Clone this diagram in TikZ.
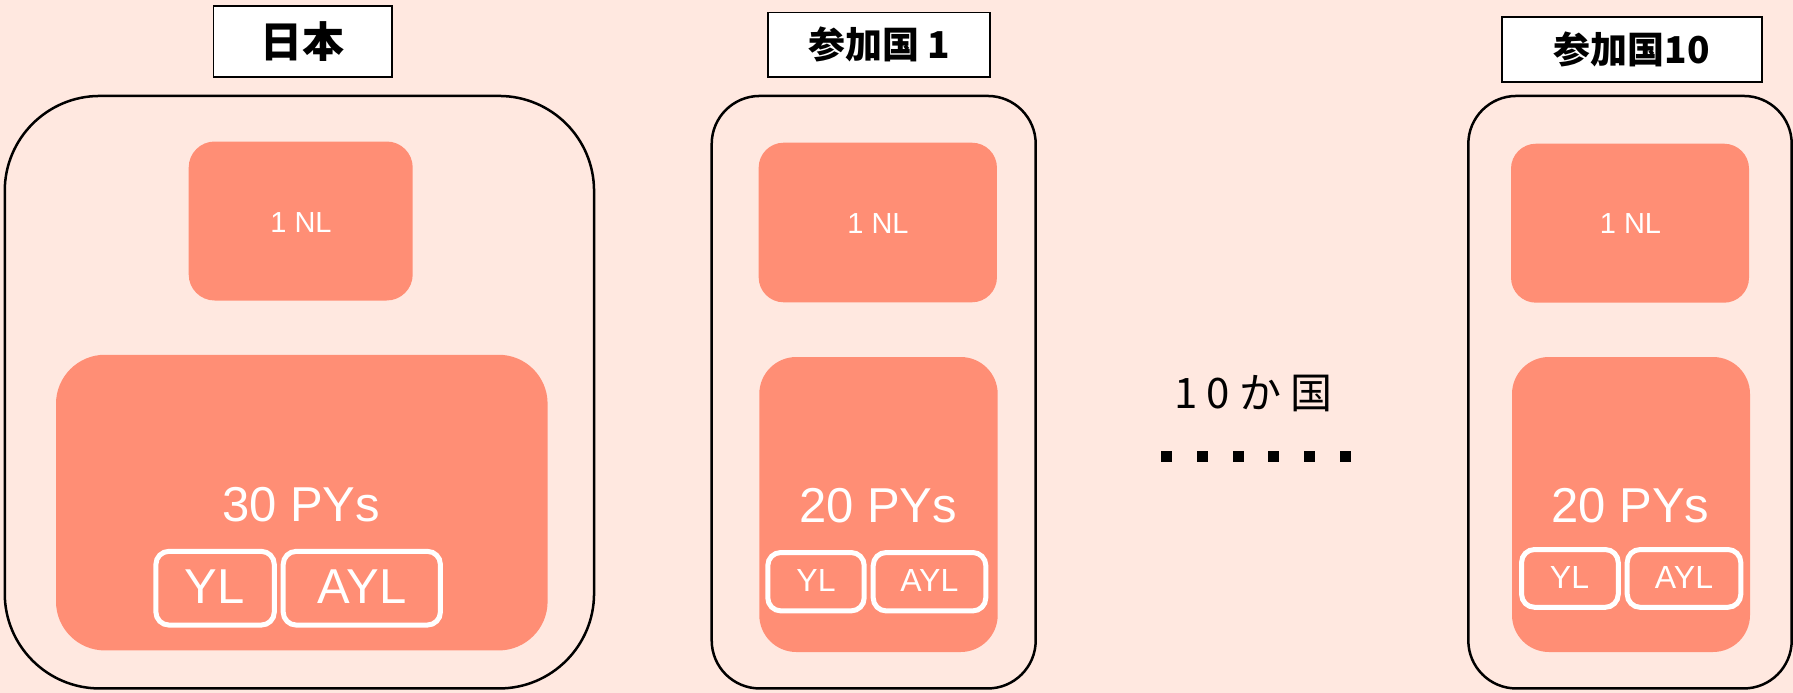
\documentclass[tikz,border=0pt]{standalone}
\usepackage{fontspec}
\setmainfont{Liberation Sans}
\newfontfamily\jp{Noto Sans CJK JP}
\definecolor{bgpink}{RGB}{255,232,224}
\definecolor{salmon}{RGB}{255,142,117}
\tikzset{
  outerbox/.style={draw=black,line width=2.5pt,inner sep=0pt},
  labelbox/.style={draw=black,fill=white,line width=1.8pt,inner sep=0pt,font=\jp\bfseries\fontsize{37}{40}\selectfont},
  salbox/.style={fill=salmon,inner sep=0pt},
  wbox/.style={draw=white,line width=5pt,inner sep=0pt,rounded corners=13pt},
  bigtxt/.style={text=white,inner sep=0pt,anchor=base,font=\fontsize{49}{50}\selectfont},
  nltxt/.style={text=white,inner sep=0pt,anchor=base,font=\fontsize{29}{30}\selectfont},
  smtxt/.style={text=white,inner sep=0pt,anchor=base,font=\fontsize{32}{34}\selectfont},
}
\begin{document}
\begin{tikzpicture}[x=1pt,y=-1pt]
\fill[bgpink] (0,0) rectangle (1793,693);
\useasboundingbox (0,0) rectangle (1793,693);
% Japan
\node[labelbox,minimum width=178.5pt,minimum height=71.6pt,font=\jp\bfseries\fontsize{42}{44}\selectfont] (jpl) at (302.7,41.5) {日本};
\node[outerbox,minimum width=589.3pt,minimum height=592.5pt,rounded corners=95pt] (jp) at (299.4,392.2) {};
\node[salbox,minimum width=224pt,minimum height=159pt,rounded corners=26pt] (jpnl) at (300.7,221) {};
\node[salbox,minimum width=491.6pt,minimum height=295.7pt,rounded corners=49pt] (jppy) at (301.8,502.6) {};
\node[nltxt] (jpnlt) at (301,232) {1 NL};
\node[bigtxt] (jppyt) at (301,521.4) {30 PYs};
\node[wbox,minimum width=118.4pt,minimum height=73.7pt] (jpyl) at (215.1,588.2) {};
\node[wbox,minimum width=157.2pt,minimum height=73.7pt] (jpayl) at (361.8,588.2) {};
\node[bigtxt] (jpylt) at (214.3,603) {YL};
\node[bigtxt] (jpaylt) at (361.9,603) {AYL};
% Country 1
\node[labelbox,minimum width=221.4pt,minimum height=64.5pt] (c1l) at (879,44.7) {参加国 1};
\node[outerbox,minimum width=324pt,minimum height=592.5pt,rounded corners=48pt] (c1) at (873.7,392.2) {};
\node[salbox,minimum width=238.3pt,minimum height=159.6pt,rounded corners=25pt] (c1nl) at (877.8,222.5) {};
\node[salbox,minimum width=238.4pt,minimum height=295pt,rounded corners=37pt] (c1py) at (878.5,504.5) {};
\node[nltxt] (c1nlt) at (878,233) {1 NL};
\node[bigtxt] (c1pyt) at (878,522.7) {20 PYs};
\node[wbox,minimum width=96.4pt,minimum height=58.4pt] (c1yl) at (816,581.7) {};
\node[wbox,minimum width=112.6pt,minimum height=58.4pt] (c1ayl) at (929.5,581.7) {};
\node[smtxt] (c1ylt) at (816,591) {YL};
\node[smtxt] (c1aylt) at (929.3,591) {AYL};
% Country 10
\node[labelbox,minimum width=260.6pt,minimum height=65.4pt] (c10l) at (1632,49.5) {参加国10};
\node[outerbox,minimum width=323.4pt,minimum height=592.5pt,rounded corners=48pt] (c10) at (1630,392.2) {};
\node[salbox,minimum width=238pt,minimum height=159pt,rounded corners=25pt] (c10nl) at (1630,223.2) {};
\node[salbox,minimum width=238pt,minimum height=295pt,rounded corners=37pt] (c10py) at (1631,504.5) {};
\node[nltxt] (c10nlt) at (1630.5,233) {1 NL};
\node[bigtxt] (c10pyt) at (1630.5,522.7) {20 PYs};
\node[wbox,minimum width=96.7pt,minimum height=57.8pt] (c10yl) at (1569.9,578.4) {};
\node[wbox,minimum width=113.6pt,minimum height=57.8pt] (c10ayl) at (1684,578.4) {};
\node[smtxt] (c10ylt) at (1569.5,588.6) {YL};
\node[smtxt] (c10aylt) at (1684,588.6) {AYL};
% middle
\node[inner sep=0pt,font=\jp\fontsize{42}{44}\selectfont] (ten) at (1253.5,393) {1 0 か 国};
\foreach \k in {0,...,5}{
  \fill[black] ({1166.7+35.7*\k-5.5},450.5) rectangle ++(11,11);
}
\end{tikzpicture}
\end{document}
